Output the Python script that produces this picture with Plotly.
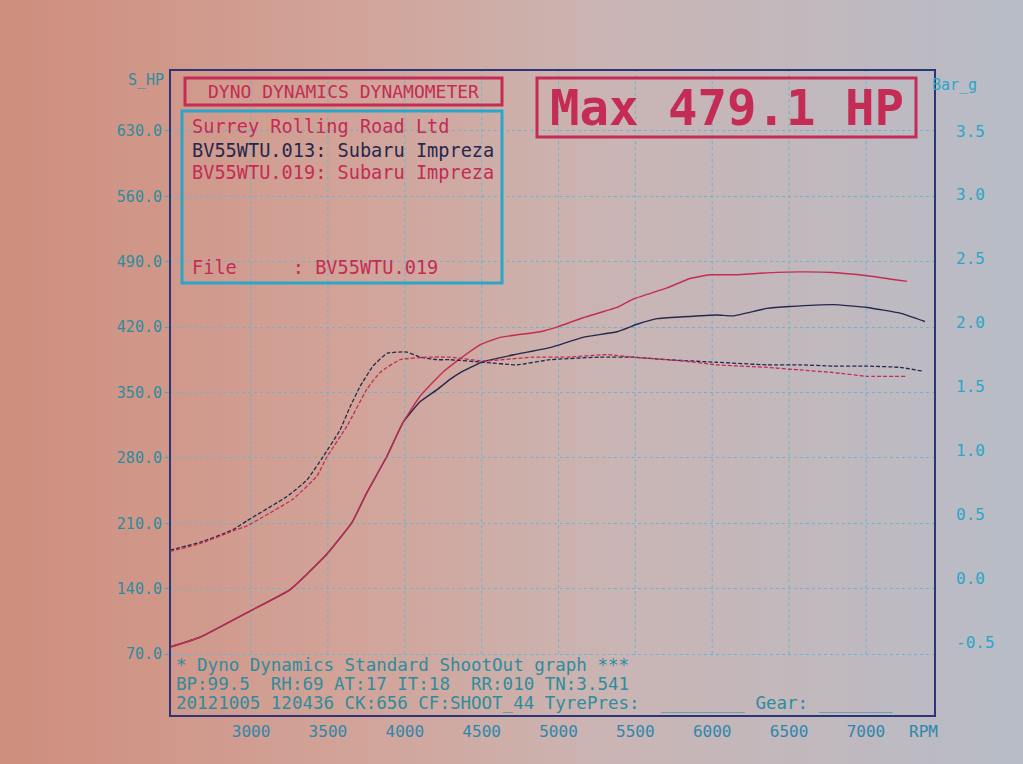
import plotly.graph_objects as go

# ---------------- data (read from the dyno sheet) ----------------
rpm_hp_013 = [2473, 2668, 2993, 3254, 3488, 3657, 3754, 3885, 3989, 4099, 4210, 4294, 4359,
              4509, 4730, 4945, 5159, 5380, 5511, 5641, 5810, 6031, 6135, 6356, 6506, 6785,
              7007, 7221, 7384]
hp_013 = [77.5, 88, 116, 139, 176, 211, 243, 282, 318, 340, 353, 364, 371,
          383, 391, 398, 409, 415, 423, 429, 431, 433, 432, 440, 442, 444,
          441, 435, 426]

rpm_hp_019 = [2473, 2668, 2993, 3254, 3488, 3657, 3754, 3885, 3989, 4099, 4249, 4294, 4489,
              4620, 4880, 4990, 5159, 5380, 5485, 5706, 5855, 5985, 6135, 6356, 6571, 6785,
              7007, 7267]
hp_019 = [77.5, 88, 116, 139, 176, 211, 243, 282, 318, 346, 372, 378, 401,
          409, 415, 420, 430, 441, 450, 462, 472, 476, 476, 478, 479.1, 478.5,
          475, 469]

rpm_boost_013 = [2473, 2668, 2883, 2974, 3234, 3364, 3468, 3579, 3644, 3709, 3793, 3885, 4015,
                 4099, 4210, 4294, 4509, 4730, 4945, 5270, 5485, 5706, 6031, 6356, 6571, 6785,
                 7007, 7221, 7371]
boost_013 = [0.22, 0.28, 0.38, 0.45, 0.64, 0.77, 0.95, 1.16, 1.34, 1.50, 1.66, 1.76, 1.77,
             1.73, 1.71, 1.71, 1.69, 1.67, 1.71, 1.73, 1.73, 1.71, 1.69, 1.67, 1.67, 1.66,
             1.66, 1.65, 1.62]

rpm_boost_019 = [2473, 2668, 2883, 2974, 3273, 3429, 3494, 3624, 3754, 3839, 3969, 4145, 4294,
                 4509, 4835, 5055, 5315, 5485, 5810, 6031, 6356, 6571, 6785, 7007, 7267]
boost_019 = [0.21, 0.27, 0.37, 0.41, 0.62, 0.80, 0.95, 1.19, 1.48, 1.61, 1.71, 1.73, 1.73,
             1.70, 1.73, 1.73, 1.75, 1.73, 1.70, 1.67, 1.65, 1.63, 1.61, 1.58, 1.58]

x_ticks = [3000, 3500, 4000, 4500, 5000, 5500, 6000, 6500, 7000]
hp_ticks = [70, 140, 210, 280, 350, 420, 490, 560, 630]
bar_ticks = [-0.5, 0.0, 0.5, 1.0, 1.5, 2.0, 2.5, 3.0, 3.5]

max_hp = max(hp_019)

# ---------------- styling ----------------
FONT = "DejaVu Sans Mono"
RED = "#c42c55"
NAVY = "#25284e"
TEAL = "#2e8c9e"
CYAN = "#2ba6c8"
GRID = "#6db4cc"
FRAME = "#2b3577"

W, H = 1023, 764
L, R, T, B = 170, 935, 70, 716  # plot area in pixels


def px(x):
    return (x - L) / (R - L)


def py(y):
    return (B - y) / (B - T)


fig = go.Figure()

fig.add_trace(go.Scatter(x=rpm_hp_013, y=hp_013, mode="lines", name="BV55WTU.013 power",
                         line=dict(color=NAVY, width=1.4, shape="spline", smoothing=0.4)))
fig.add_trace(go.Scatter(x=rpm_hp_019, y=hp_019, mode="lines", name="BV55WTU.019 power",
                         line=dict(color=RED, width=1.4, shape="spline", smoothing=0.4)))
fig.add_trace(go.Scatter(x=rpm_boost_013, y=boost_013, mode="lines", yaxis="y2",
                         name="BV55WTU.013 boost",
                         line=dict(color=NAVY, width=1.3, dash="4px,2px", shape="spline", smoothing=0.4)))
fig.add_trace(go.Scatter(x=rpm_boost_019, y=boost_019, mode="lines", yaxis="y2",
                         name="BV55WTU.019 boost",
                         line=dict(color=RED, width=1.3, dash="4px,2px", shape="spline", smoothing=0.4)))

shapes = []

# background photo-like gradient (left salmon -> right grey-blue)
stops = [(0.0, (206, 141, 125)), (0.35, (210, 164, 153)), (0.6, (202, 181, 180)), (1.0, (183, 188, 199))]


def grad(t):
    for (t0, c0), (t1, c1) in zip(stops[:-1], stops[1:]):
        if t0 <= t <= t1:
            f = (t - t0) / (t1 - t0)
            return "rgb(%d,%d,%d)" % tuple(round(a + (b - a) * f) for a, b in zip(c0, c1))
    return "rgb(%d,%d,%d)" % stops[-1][1]


NB = 64
for i in range(NB):
    xa = i * W / NB
    xb = (i + 1) * W / NB + 1
    shapes.append(dict(type="rect", xref="paper", yref="paper", layer="below",
                       x0=px(xa), x1=px(xb), y0=py(H + 2), y1=py(-2),
                       fillcolor=grad((i + 0.5) / NB), line=dict(width=0)))

# vertical grid lines (stop at the text strip)
for v in x_ticks:
    shapes.append(dict(type="line", xref="x", yref="y", layer="below",
                       x0=v, x1=v, y0=70, y1=695.2,
                       line=dict(color=GRID, width=1, dash="dot")))

# outer frame
shapes.append(dict(type="rect", xref="paper", yref="paper", x0=0, x1=1, y0=0, y1=1,
                   line=dict(color=FRAME, width=2)))
# title box
shapes.append(dict(type="rect", xref="paper", yref="paper",
                   x0=px(185), x1=px(502), y0=py(105), y1=py(78),
                   line=dict(color=RED, width=3)))
# info box
shapes.append(dict(type="rect", xref="paper", yref="paper",
                   x0=px(182), x1=px(502), y0=py(283), y1=py(111),
                   line=dict(color=CYAN, width=3)))
# max box
shapes.append(dict(type="rect", xref="paper", yref="paper",
                   x0=px(537), x1=px(916), y0=py(137), y1=py(78),
                   line=dict(color=RED, width=3)))

ann = []


def text(x, y, s, color, size=18.6, xanchor="left", bold=False):
    ann.append(dict(xref="paper", yref="paper", x=px(x), y=py(y), text=("<b>%s</b>" % s) if bold else s,
                    showarrow=False, xanchor=xanchor, yanchor="middle",
                    font=dict(family=FONT, size=size, color=color)))


text(343, 92, "DYNO DYNAMICS DYNAMOMETER", RED, 18, xanchor="center")
text(190, 126, "Surrey Rolling Road Ltd", RED)
text(190, 150, "BV55WTU.013: Subaru Impreza", NAVY)
text(190, 173, "BV55WTU.019: Subaru Impreza", RED)
text(190, 267, "File&nbsp;&nbsp;&nbsp;&nbsp;&nbsp;: BV55WTU.019", RED)
text(727, 108, "Max %.1f HP" % max_hp, RED, 49, xanchor="center", bold=True)
text(166, 80, "S_HP", TEAL, 15, xanchor="right")
text(930, 85, "Bar_g", CYAN, 15)
text(907, 731, "RPM", "#2f86ad", 16)
text(174, 665, "* Dyno Dynamics Standard ShootOut graph ***", TEAL, 17.5)
text(174, 684, "BP:99.5&nbsp;&nbsp;RH:69 AT:17 IT:18&nbsp;&nbsp;RR:010 TN:3.541", TEAL, 17.5)
text(174, 703, "20121005 120436 CK:656 CF:SHOOT_44 TyrePres:&nbsp;&nbsp;________ Gear: _______", TEAL, 17.5)

fig.update_layout(
    width=W, height=H,
    margin=dict(l=L, r=W - R, t=T, b=H - B, pad=0),
    paper_bgcolor="rgb(204,170,164)",
    plot_bgcolor="rgba(0,0,0,0)",
    showlegend=False,
    shapes=shapes,
    annotations=ann,
    xaxis=dict(range=[2473, 7449], tickvals=x_ticks, showgrid=False, zeroline=False,
               showline=False, ticks="", ticklabelstandoff=4,
               tickfont=dict(family=FONT, size=16, color="#2f86ad")),
    yaxis=dict(range=[3.7, 695.2], tickvals=hp_ticks, tickformat=".1f", showgrid=True,
               gridcolor=GRID, griddash="dot", gridwidth=1, zeroline=False, showline=False,
               ticks="outside", ticklen=4, tickcolor="#5a9fb0",
               tickfont=dict(family=FONT, size=15, color=TEAL)),
    yaxis2=dict(range=[-1.078, 3.977], tickvals=bar_ticks,
                ticktext=["%.1f" % v for v in bar_ticks], overlaying="y",
                side="right", showgrid=False, zeroline=False, showline=False, ticks="",
                ticklabelstandoff=20, tickfont=dict(family=FONT, size=16, color=CYAN)),
)

fig.write_html("out.html", config={"displayModeBar": False},
               post_script="document.body.style.margin='0';document.body.style.overflow='hidden';")
